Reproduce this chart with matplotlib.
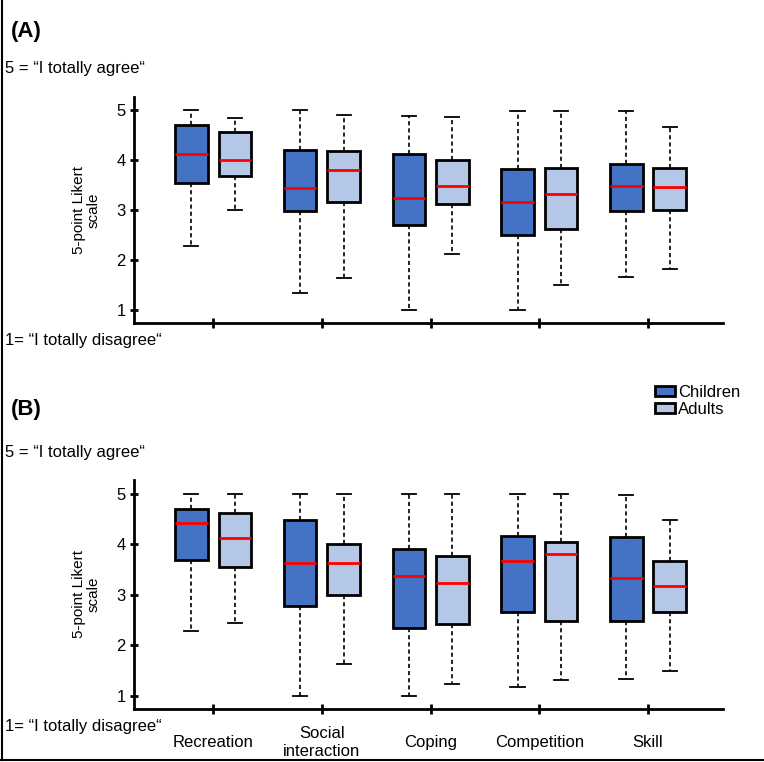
import matplotlib
matplotlib.use("Agg")
import matplotlib.pyplot as plt
from matplotlib.patches import Patch
from matplotlib.lines import Line2D

plt.rcParams['font.family'] = ['Liberation Sans', 'DejaVu Sans']

categories = ["Recreation", "Social\ninteraction", "Coping", "Competition", "Skill"]
groups = ["Children", "Adults"]
colors = {"Children": "#4472C4", "Adults": "#B4C7E7"}

# Panel A: [whislo, q1, median, q3, whishi]
A_children = [[2.28, 3.55, 4.12, 4.70, 5.00],
              [1.35, 2.99, 3.44, 4.20, 5.00],
              [1.00, 2.71, 3.25, 4.12, 4.88],
              [1.00, 2.50, 3.17, 3.82, 4.99],
              [1.67, 2.98, 3.49, 3.93, 4.99]]
A_adults = [[3.00, 3.69, 4.00, 4.56, 4.85],
            [1.64, 3.16, 3.80, 4.18, 4.90],
            [2.12, 3.12, 3.49, 4.00, 4.87],
            [1.50, 2.62, 3.32, 3.84, 4.99],
            [1.83, 3.00, 3.47, 3.84, 4.66]]
# Panel B
B_children = [[2.28, 3.68, 4.41, 4.70, 5.00],
              [1.00, 2.78, 3.63, 4.47, 5.00],
              [1.00, 2.34, 3.37, 3.90, 5.00],
              [1.17, 2.65, 3.66, 4.16, 5.00],
              [1.34, 2.48, 3.33, 4.15, 4.98]]
B_adults = [[2.44, 3.55, 4.12, 4.61, 5.00],
            [1.63, 2.99, 3.62, 4.00, 5.00],
            [1.24, 2.42, 3.24, 3.77, 5.00],
            [1.32, 2.48, 3.81, 4.04, 5.00],
            [1.50, 2.65, 3.18, 3.67, 4.48]]

yticks = [1, 2, 3, 4, 5]

W, H = 764, 762
fig = plt.figure(figsize=(W / 100, H / 100), dpi=100)


def make_stats(rows):
    return [dict(whislo=r[0], q1=r[1], med=r[2], q3=r[3], whishi=r[4], fliers=[]) for r in rows]


def draw_panel(ax, children, adults, show_labels):
    n = len(categories)
    centers = list(range(1, n + 1))
    off = 0.2
    for data, grp, sign in ((children, "Children", -1), (adults, "Adults", 1)):
        pos = [c + sign * off for c in centers]
        ax.bxp(make_stats(data), positions=pos, widths=0.30, capwidths=0.13,
               showfliers=False, patch_artist=True,
               boxprops=dict(facecolor=colors[grp], edgecolor="black", linewidth=2.0),
               medianprops=dict(color="#FF0000", linewidth=2.0),
               whiskerprops=dict(color="black", linewidth=1.2, linestyle=(0, (2.5, 1.8))),
               capprops=dict(color="black", linewidth=1.3))
    ax.set_xlim(0.272, 5.69)
    ax.set_ylim(0.74, 5.27)
    ax.set_xticks(centers)
    ax.set_xticklabels([])
    if show_labels:
        for c, lab in zip(centers, categories):
            ax.annotate(lab, xy=(c, 0), xycoords=("data", "axes fraction"),
                        xytext=(0, -24), textcoords="offset points",
                        ha="center", va="center", fontsize=12, linespacing=1.2)
    ax.set_yticks(yticks)
    ax.set_yticklabels([str(t) for t in yticks], fontsize=12)
    for s in ("top", "right"):
        ax.spines[s].set_visible(False)
    for s in ("left", "bottom"):
        ax.spines[s].set_linewidth(2.0)
    ax.tick_params(axis="y", direction="inout", length=6, width=2.0, pad=3)
    ax.tick_params(axis="x", direction="inout", length=7, width=2.0)
    ax.set_ylabel("5-point Likert\nscale", fontsize=11, labelpad=11, linespacing=1.1)


axA = fig.add_axes([134 / W, 1 - 323 / H, (723 - 134) / W, (323 - 97) / H])
draw_panel(axA, A_children, A_adults, False)
axB = fig.add_axes([134 / W, 1 - 709 / H, (723 - 134) / W, (709 - 480) / H])
draw_panel(axB, B_children, B_adults, True)

# panel texts
fig.text(11 / W, 1 - 31 / H, "(A)", fontsize=16, fontweight="bold", va="center", ha="left")
fig.text(5 / W, 1 - 68 / H, "5 = \u201cI totally agree\u201c", fontsize=12, va="center", ha="left")
fig.text(5 / W, 1 - 340 / H, "1= \u201cI totally disagree\u201c", fontsize=12, va="center", ha="left")
fig.text(11 / W, 1 - 409 / H, "(B)", fontsize=16, fontweight="bold", va="center", ha="left")
fig.text(5 / W, 1 - 452 / H, "5 = \u201cI totally agree\u201c", fontsize=12, va="center", ha="left")
fig.text(5 / W, 1 - 726 / H, "1= \u201cI totally disagree\u201c", fontsize=12, va="center", ha="left")

handles = [Patch(facecolor=colors[g], edgecolor="black", linewidth=2.0) for g in groups]
fig.legend(handles, groups, loc="upper left", bbox_to_anchor=(655 / W, 1 - 385 / H),
           frameon=False, fontsize=12, handlelength=1.2, handleheight=0.55,
           handletextpad=0.2, labelspacing=0.12, borderpad=0, borderaxespad=0)

# figure border (left and bottom)
fig.add_artist(Line2D([1.5 / W, 1.5 / W], [1 - 760 / H, 1.0], transform=fig.transFigure,
                      color="black", linewidth=1.5))
fig.add_artist(Line2D([0, 1], [1 - 760 / H, 1 - 760 / H], transform=fig.transFigure,
                      color="black", linewidth=1.5))

fig.savefig("out.png", dpi=100)
